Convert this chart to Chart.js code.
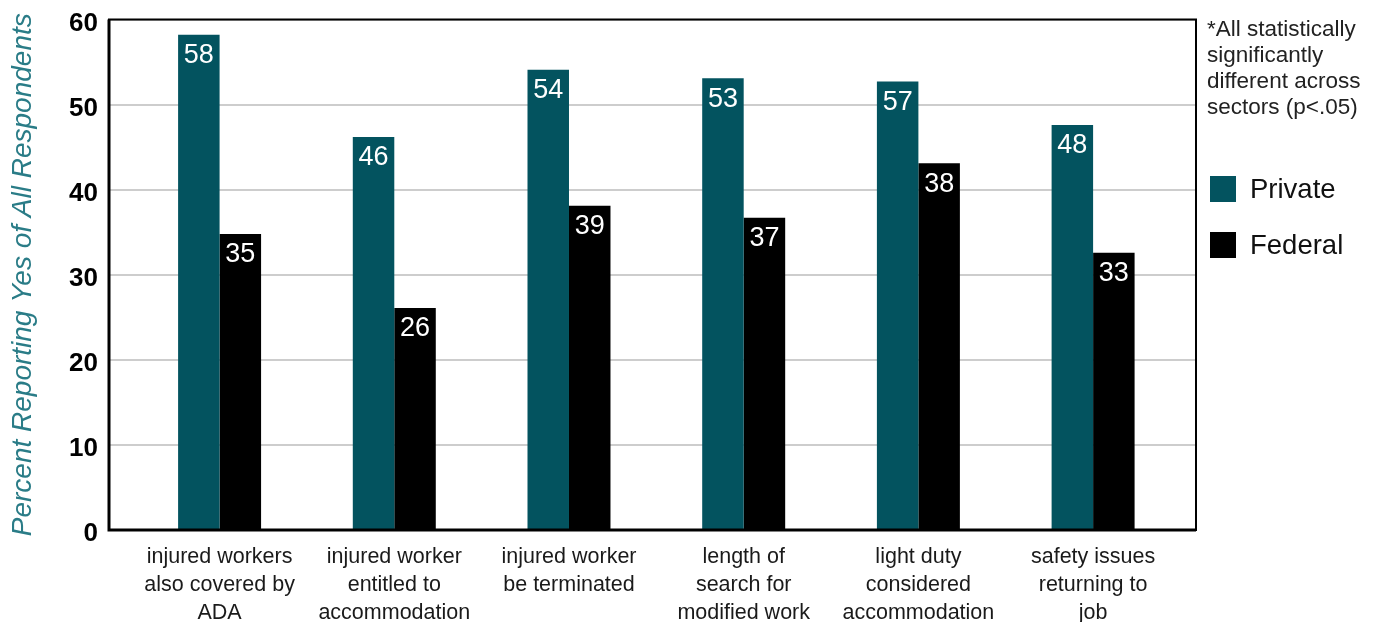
<!DOCTYPE html>
<html lang="en">
<head>
<meta charset="utf-8">
<title>Percent Reporting Yes — Private vs Federal</title>
<script src="https://cdn.jsdelivr.net/npm/chart.js@4.4.1/dist/chart.umd.min.js"></script>
<style>
  html, body { margin: 0; padding: 0; background: #fff; }
  #wrap { position: relative; width: 1382px; height: 622px; font-family: Helvetica, "Liberation Sans", Arial, sans-serif; }
  #grafico { position: absolute; left: 0; top: 0; }
  #nota { position: absolute; left: 1207px; top: 16px; font-size: 22.5px; line-height: 26px; color: #222; }
  #leyenda { position: absolute; left: 1210px; top: 176px; }
  .ley-item { display: flex; align-items: center; height: 26px; margin-bottom: 30px; font-size: 27.5px; color: #111; }
  .ley-caja { width: 26px; height: 26px; margin-right: 14px; }
</style>
</head>
<body>
<div id="wrap">
  <canvas id="grafico" width="1382" height="622"></canvas>
  <div id="nota">*All statistically<br>significantly<br>different across<br>sectors (p&lt;.05)</div>
  <div id="leyenda"></div>
</div>
<script>
// ── Datos ──
const categorias = [
  ['injured workers', 'also covered by', 'ADA'],
  ['injured worker', 'entitled to', 'accommodation'],
  ['injured worker', 'be terminated'],
  ['length of', 'search for', 'modified work'],
  ['light duty', 'considered', 'accommodation'],
  ['safety issues', 'returning to', 'job'],
];
const series = ['Private', 'Federal'];

// alturas de las barras
const valoresPrivado = [58.2, 46.2, 54.1, 53.1, 52.7, 47.6];
const valoresFederal = [34.8, 26.1, 38.1, 36.7, 43.1, 32.6];

// números impresos sobre cada barra
const etiquetasPrivado = [58, 46, 54, 53, 57, 48];
const etiquetasFederal = [35, 26, 39, 37, 38, 33];

const ticksY = [0, 10, 20, 30, 40, 50, 60];

// ── Estilo ──
const COLORES = ['#03535f', '#000000'];
const FUENTE  = 'Helvetica, "Liberation Sans", Arial, sans-serif';

// ── Leyenda HTML ──
document.getElementById('leyenda').innerHTML = series.map((s, i) => `
  <div class="ley-item"><span class="ley-caja" style="background:${COLORES[i]}"></span>${s}</div>`).join('');

// ── Plugins ──
const etiquetasBarras = {
  id: 'etiquetasBarras',
  afterDatasetsDraw(chart) {
    const ctx = chart.ctx;
    const textos = [etiquetasPrivado, etiquetasFederal];
    ctx.save();
    ctx.font = `27px ${FUENTE}`;
    ctx.fillStyle = '#fff';
    ctx.textAlign = 'center';
    ctx.textBaseline = 'middle';
    chart.data.datasets.forEach((ds, d) => {
      chart.getDatasetMeta(d).data.forEach((bar, i) => {
        ctx.fillText(String(textos[d][i]), bar.x, bar.y + 21);
      });
    });
    ctx.restore();
  }
};

const marco = {
  id: 'marco',
  afterDatasetsDraw(chart) {
    const { ctx, chartArea: a } = chart;
    ctx.save();
    ctx.strokeStyle = '#000';
    ctx.lineWidth = 2;
    ctx.strokeRect(a.left, a.top, a.right - a.left, a.bottom - a.top);
    ctx.lineWidth = 3;
    ctx.beginPath();
    ctx.moveTo(a.left, a.top);
    ctx.lineTo(a.left, a.bottom);
    ctx.lineTo(a.right, a.bottom);
    ctx.stroke();
    ctx.restore();
  }
};

// ── Gráfico ──
const puntos = vals => vals.map((v, i) => ({ x: i, y: v }));

new Chart(document.getElementById('grafico'), {
  type: 'bar',
  data: {
    datasets: [
      { label: series[0], data: puntos(valoresPrivado), backgroundColor: COLORES[0] },
      { label: series[1], data: puntos(valoresFederal), backgroundColor: COLORES[1] },
    ],
  },
  options: {
    responsive: false,
    animation: false,
    categoryPercentage: 0.475,
    barPercentage: 1,
    layout: { padding: { top: 19.5, right: 186, left: 0, bottom: 0 } },
    plugins: { legend: { display: false }, tooltip: { enabled: false } },
    scales: {
      x: {
        type: 'linear',
        offset: false,
        min: -0.633,
        max: 5.589,
        grid: { display: false, drawTicks: false },
        border: { display: false },
        afterBuildTicks: ax => { ax.ticks = categorias.map((_, i) => ({ value: i })); },
        afterFit: ax => { ax.height = 92; ax.paddingLeft = 0; ax.paddingRight = 0; },
        ticks: {
          autoSkip: false,
          maxRotation: 0,
          padding: 13,
          color: '#1a1a1a',
          font: { family: FUENTE, size: 21.5, lineHeight: 1.3 },
          callback: v => categorias[v],
        },
      },
      y: {
        min: 0,
        max: 60,
        afterBuildTicks: ax => { ax.ticks = ticksY.map(v => ({ value: v })); },
        afterFit: ax => { ax.width = 109; ax.paddingTop = 0; ax.paddingBottom = 0; },
        grid: { color: '#cdcdcd', lineWidth: 2, drawTicks: false },
        border: { display: false },
        ticks: {
          padding: 11,
          labelOffset: 4,
          color: '#000',
          font: { family: FUENTE, size: 26, weight: 'bold' },
        },
        title: {
          display: true,
          text: 'Percent Reporting Yes of All Respondents',
          color: '#2a7c87',
          padding: { top: 6, bottom: 0 },
          font: { family: FUENTE, size: 28, style: 'italic' },
        },
      },
    },
  },
  plugins: [etiquetasBarras, marco],
});
</script>
</body>
</html>
